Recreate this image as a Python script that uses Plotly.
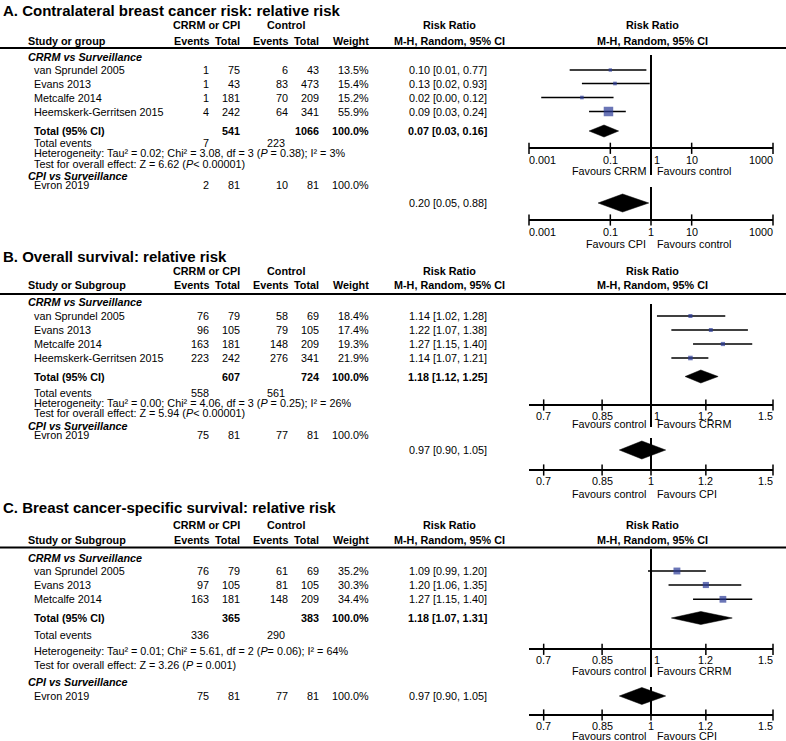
import math
import plotly.graph_objects as go

W, H = 786, 741
FONT = "Liberation Sans, Arial, Helvetica, sans-serif"
FS = 10.8
BLUE = "#2b3a97"

# ---------------- data ----------------
# Panel A: contralateral breast cancer risk
A_studies = ["van Sprundel 2005", "Evans 2013", "Metcalfe 2014", "Heemskerk-Gerritsen 2015"]
A_ev1 = [1, 1, 1, 4]
A_tot1 = [75, 43, 181, 242]
A_ev2 = [6, 83, 70, 64]
A_tot2 = [43, 473, 209, 341]
A_weight = [13.5, 15.4, 15.2, 55.9]
A_rr = [0.10, 0.13, 0.02, 0.09]
A_lo = [0.01, 0.02, 0.002, 0.03]
A_hi = [0.77, 0.93, 0.12, 0.24]
A_total_n = [541, 1066]
A_total_weight = 100.0
A_total_events = [7, 223]
A_pooled = [0.07, 0.03, 0.16]
A_het = "Heterogeneity: Tau² = 0.02; Chi² = 3.08, df = 3 (<i>P</i> = 0.38); I² = 3%"
A_test = "Test for overall effect: Z = 6.62 (<i>P</i>&lt; 0.00001)"
A_cpi = [2, 81, 10, 81]
A_cpi_weight = 100.0
A_cpi_rr = [0.20, 0.05, 0.88]
A_fav1 = ["Favours CRRM", "Favours control"]
A_fav2 = ["Favours CPI", "Favours control"]

# Panel B: overall survival
B_studies = ["van Sprundel 2005", "Evans 2013", "Metcalfe 2014", "Heemskerk-Gerritsen 2015"]
B_ev1 = [76, 96, 163, 223]
B_tot1 = [79, 105, 181, 242]
B_ev2 = [58, 79, 148, 276]
B_tot2 = [69, 105, 209, 341]
B_weight = [18.4, 17.4, 19.3, 21.9]
B_rr = [1.14, 1.22, 1.27, 1.14]
B_lo = [1.02, 1.07, 1.15, 1.07]
B_hi = [1.28, 1.38, 1.40, 1.21]
B_total_n = [607, 724]
B_total_weight = 100.0
B_total_events = [558, 561]
B_pooled = [1.18, 1.12, 1.25]
B_het = "Heterogeneity: Tau² = 0.00; Chi² = 4.06, df = 3 (<i>P</i> = 0.25); I² = 26%"
B_test = "Test for overall effect: Z = 5.94 (<i>P</i>&lt; 0.00001)"
B_cpi = [75, 81, 77, 81]
B_cpi_weight = 100.0
B_cpi_rr = [0.97, 0.90, 1.05]
B_fav1 = ["Favours control", "Favours CRRM"]
B_fav2 = ["Favours control", "Favours CPI"]

# Panel C: breast cancer-specific survival
C_studies = ["van Sprundel 2005", "Evans 2013", "Metcalfe 2014"]
C_ev1 = [76, 97, 163]
C_tot1 = [79, 105, 181]
C_ev2 = [61, 81, 148]
C_tot2 = [69, 105, 209]
C_weight = [35.2, 30.3, 34.4]
C_rr = [1.09, 1.20, 1.27]
C_lo = [0.99, 1.06, 1.15]
C_hi = [1.20, 1.35, 1.40]
C_total_n = [365, 383]
C_total_weight = 100.0
C_total_events = [336, 290]
C_pooled = [1.18, 1.07, 1.31]
C_het = "Heterogeneity: Tau² = 0.01; Chi² = 5.61, df = 2 (<i>P</i>= 0.06); I² = 64%"
C_test = "Test for overall effect: Z = 3.26 (<i>P</i> = 0.001)"
C_cpi = [75, 81, 77, 81]
C_cpi_weight = 100.0
C_cpi_rr = [0.97, 0.90, 1.05]
C_fav1 = ["Favours control", "Favours CRRM"]
C_fav2 = ["Favours control", "Favours CPI"]

A_ticks = [0.001, 0.1, 1, 10, 1000]
BC_ticks = [0.7, 0.85, 1, 1.2, 1.5]

# ---------------- layout (pixel rows) ----------------
panels = [
    dict(title="A. Contralateral breast cancer risk: relative risk", hdr="Study or group",
         studies=A_studies, ev1=A_ev1, tot1=A_tot1, ev2=A_ev2, tot2=A_tot2, w=A_weight,
         rr=A_rr, lo=A_lo, hi=A_hi, tot_n=A_total_n, tot_w=A_total_weight, tot_ev=A_total_events,
         pooled=A_pooled, het=A_het, test=A_test, cpi=A_cpi, cpi_w=A_cpi_weight, cpi_rr=A_cpi_rr,
         fav1=A_fav1, fav2=A_fav2, ticks=A_ticks, rng=[-3, 3],
         pos=dict(title=10, grp=25, hdr=40.5, line=48, sub=57, rows=[70, 83.5, 97.5, 111.5],
                  total=131, tev=142.7, het=153, test=163.5, cpi=176.3, evron=185, evron_ci=203,
                  v1=(55, 175), ax1=148.3, tl1=160, fv1=171, d1h=6,
                  v2=(187, 220), ax2=220, tl2=231.7, fv2=244, d2h=9, ms=(1.4, 0.145))),
    dict(title="B. Overall survival: relative risk", hdr="Study or Subgroup",
         studies=B_studies, ev1=B_ev1, tot1=B_tot1, ev2=B_ev2, tot2=B_tot2, w=B_weight,
         rr=B_rr, lo=B_lo, hi=B_hi, tot_n=B_total_n, tot_w=B_total_weight, tot_ev=B_total_events,
         pooled=B_pooled, het=B_het, test=B_test, cpi=B_cpi, cpi_w=B_cpi_weight, cpi_rr=B_cpi_rr,
         fav1=B_fav1, fav2=B_fav2, ticks=BC_ticks, rng=[math.log10(1 / 1.5), math.log10(1.5)],
         pos=dict(title=256, grp=270.5, hdr=285, line=294, sub=301.7, rows=[316, 330, 344, 358],
                  total=376.5, tev=392.7, het=402.7, test=413.3, cpi=426, evron=435, evron_ci=450,
                  v1=(304, 427), ax1=405, tl1=415.5, fv1=424, d1h=6.5,
                  v2=(438, 470), ax2=470, tl2=481, fv2=494, d2h=9, ms=(1.4, 0.145))),
    dict(title="C. Breast cancer-specific survival: relative risk", hdr="Study or Subgroup",
         studies=C_studies, ev1=C_ev1, tot1=C_tot1, ev2=C_ev2, tot2=C_tot2, w=C_weight,
         rr=C_rr, lo=C_lo, hi=C_hi, tot_n=C_total_n, tot_w=C_total_weight, tot_ev=C_total_events,
         pooled=C_pooled, het=C_het, test=C_test, cpi=C_cpi, cpi_w=C_cpi_weight, cpi_rr=C_cpi_rr,
         fav1=C_fav1, fav2=C_fav2, ticks=BC_ticks, rng=[math.log10(1 / 1.5), math.log10(1.5)],
         pos=dict(title=507, grp=525, hdr=539.5, line=547.5, sub=558.3, rows=[571, 585, 599.3],
                  total=618, tev=635, het=650.7, test=665, cpi=681.7, evron=696, evron_ci=696,
                  v1=(549, 677), ax1=649.3, tl1=660, fv1=670.5, d1h=6.5,
                  v2=(687, 715), ax2=715, tl2=726, fv2=736, d2h=8.5, ms=(1.6, 0.15))),
]

# column x positions (pixels)
X_SUB = 27
X_NAME = 33
X_EV1 = 210
X_TOT1 = 240.5
X_EV2 = 289
X_TOT2 = 319.5
X_W = 370
X_CI = 488
X_CI_HDR = 449
X_FOREST_HDR = 652
X_GRP1 = 206
X_GRP2 = 286
DOM = [529 / W, 773 / W]

fig = go.Figure()
ann = []
shapes = []


def T(x, y, text, anchor="left", size=FS, bold=False, italic=False, xref="paper", xshift=0):
    if italic:
        text = f"<i>{text}</i>"
    if bold:
        text = f"<b>{text}</b>"
    ann.append(dict(x=x / W if xref == "paper" else x, y=y, xref=xref, yref="y", text=text,
                    showarrow=False, xanchor=anchor, yanchor="middle", xshift=xshift,
                    borderpad=0, font=dict(size=size, family=FONT, color="black")))


def ci_text(rr, lo, hi):
    return f"{rr:.2f} [{lo:.2f}, {hi:.2f}]"


layout_axes = {}
axis_idx = 0
for p in panels:
    q = p["pos"]
    # ---- left table ----
    T(2, q["title"], p["title"], size=15, bold=True)
    T(X_GRP1, q["grp"], "CRRM or CPI", anchor="center", bold=True)
    T(X_GRP2, q["grp"], "Control", anchor="center", bold=True)
    T(X_CI_HDR, q["grp"], "Risk Ratio", anchor="center", bold=True)
    T(X_FOREST_HDR, q["grp"], "Risk Ratio", anchor="center", bold=True)
    T(X_SUB, q["hdr"], p["hdr"], bold=True)
    T(X_EV1, q["hdr"], "Events", anchor="right", bold=True)
    T(X_TOT1, q["hdr"], "Total", anchor="right", bold=True)
    T(X_EV2, q["hdr"], "Events", anchor="right", bold=True)
    T(X_TOT2, q["hdr"], "Total", anchor="right", bold=True)
    T(X_W, q["hdr"], "Weight", anchor="right", bold=True)
    T(X_CI_HDR, q["hdr"], "M-H, Random, 95% CI", anchor="center", bold=True)
    T(X_FOREST_HDR, q["hdr"], "M-H, Random, 95% CI", anchor="center", bold=True)
    shapes.append(dict(type="line", xref="paper", yref="y", x0=0, x1=1, y0=q["line"], y1=q["line"],
                       line=dict(color="black", width=2)))
    T(X_SUB, q["sub"], "CRRM vs Surveillance", bold=True, italic=True)
    for i, name in enumerate(p["studies"]):
        y = q["rows"][i]
        T(X_NAME, y, name)
        T(X_EV1, y, str(p["ev1"][i]), anchor="right")
        T(X_TOT1, y, str(p["tot1"][i]), anchor="right")
        T(X_EV2, y, str(p["ev2"][i]), anchor="right")
        T(X_TOT2, y, str(p["tot2"][i]), anchor="right")
        T(X_W, y, f"{p['w'][i]:.1f}%", anchor="right")
        T(X_CI, y, ci_text(p["rr"][i], p["lo"][i], p["hi"][i]), anchor="right")
    T(X_NAME, q["total"], "Total (95% CI)", bold=True)
    T(X_TOT1, q["total"], str(p["tot_n"][0]), anchor="right", bold=True)
    T(X_TOT2, q["total"], str(p["tot_n"][1]), anchor="right", bold=True)
    T(X_W, q["total"], f"{p['tot_w']:.1f}%", anchor="right", bold=True)
    T(X_CI, q["total"], ci_text(*p["pooled"]), anchor="right", bold=True)
    T(X_NAME, q["tev"], "Total events")
    T(X_EV1, q["tev"], str(p["tot_ev"][0]), anchor="right")
    T(X_EV2 - 3, q["tev"], str(p["tot_ev"][1]), anchor="right")
    T(X_NAME, q["het"], p["het"])
    T(X_NAME, q["test"], p["test"])
    T(X_SUB, q["cpi"], "CPI vs Surveillance", bold=True, italic=True)
    T(X_NAME, q["evron"], "Evron 2019")
    T(X_EV1, q["evron"], str(p["cpi"][0]), anchor="right")
    T(X_TOT1, q["evron"], str(p["cpi"][1]), anchor="right")
    T(X_EV2, q["evron"], str(p["cpi"][2]), anchor="right")
    T(X_TOT2, q["evron"], str(p["cpi"][3]), anchor="right")
    T(X_W, q["evron"], f"{p['cpi_w']:.1f}%", anchor="right")
    T(X_CI, q["evron_ci"], ci_text(*p["cpi_rr"]), anchor="right")

    # ---- forest plots: two sub-plots per panel ----
    for sub in (1, 2):
        axis_idx += 1
        xa = "x" if axis_idx == 1 else f"x{axis_idx}"
        key = "xaxis" if axis_idx == 1 else f"xaxis{axis_idx}"
        ax_y = q[f"ax{sub}"]
        layout_axes[key] = dict(type="log", range=p["rng"], domain=DOM, anchor="free",
                                position=1 - ax_y / H, showline=True, linecolor="black",
                                linewidth=2, showgrid=False, zeroline=False, ticks="",
                                showticklabels=False, fixedrange=True)
        common = dict(xaxis=xa, yaxis="y", hoverinfo="skip", showlegend=False, cliponaxis=False)
        v0, v1 = q[f"v{sub}"]
        fig.add_trace(go.Scatter(x=[1, 1], y=[v0, v1], mode="lines",
                                 line=dict(color="black", width=2), **common))
        # tick marks crossing the axis
        fig.add_trace(go.Scatter(x=p["ticks"], y=[ax_y] * len(p["ticks"]), mode="markers",
                                 marker=dict(symbol="line-ns", size=8,
                                             line=dict(color="black", width=1.5)), **common))
        lo_r, hi_r = p["rng"]
        for t in p["ticks"]:
            lt = math.log10(t)
            if abs(lt - lo_r) < 1e-6:
                anc, sh = "left", -1
            elif abs(lt - hi_r) < 1e-6:
                anc, sh = "right", 1
            elif t == 1 and sub == 1:
                anc, sh = "left", 2
            else:
                anc, sh = "center", 0
            T(lt, q[f"tl{sub}"], f"{t:g}", anchor=anc, xref=xa, xshift=sh)
        fav = p[f"fav{sub}"]
        T(0, q[f"fv{sub}"], fav[0], anchor="right", xref=xa, xshift=-4)
        T(0, q[f"fv{sub}"], fav[1], anchor="left", xref=xa, xshift=5)

        if sub == 1:
            xs, ys = [], []
            for i in range(len(p["rr"])):
                xs += [p["lo"][i], p["hi"][i], None]
                ys += [q["rows"][i], q["rows"][i], None]
            fig.add_trace(go.Scatter(x=xs, y=ys, mode="lines",
                                     line=dict(color="black", width=1.5), **common))
            a, b = q["ms"]
            fig.add_trace(go.Scatter(x=p["rr"], y=q["rows"], mode="markers",
                                     marker=dict(symbol="square", color=BLUE,
                                                 size=[a + b * w for w in p["w"]], line=dict(width=0)),
                                     **common))
            rr, lo, hi = p["pooled"]
            yc, h = q["total"], q["d1h"]
        else:
            rr, lo, hi = p["cpi_rr"]
            yc, h = q["evron_ci"], q["d2h"]
        fig.add_trace(go.Scatter(x=[lo, rr, hi, rr, lo], y=[yc, yc - h, yc, yc + h, yc],
                                 mode="lines", fill="toself", fillcolor="black",
                                 line=dict(color="black", width=0.5), **common))

fig.update_layout(
    width=W, height=H, margin=dict(l=0, r=0, t=0, b=0),
    paper_bgcolor="white", plot_bgcolor="rgba(0,0,0,0)",
    yaxis=dict(domain=[0, 1], range=[H, 0], visible=False, fixedrange=True),
    annotations=ann, shapes=shapes, showlegend=False,
    font=dict(family=FONT, size=FS, color="black"),
    **layout_axes,
)

fig.write_html("out.html", config={"displayModeBar": False},
               post_script="document.body.style.margin='0px';")
